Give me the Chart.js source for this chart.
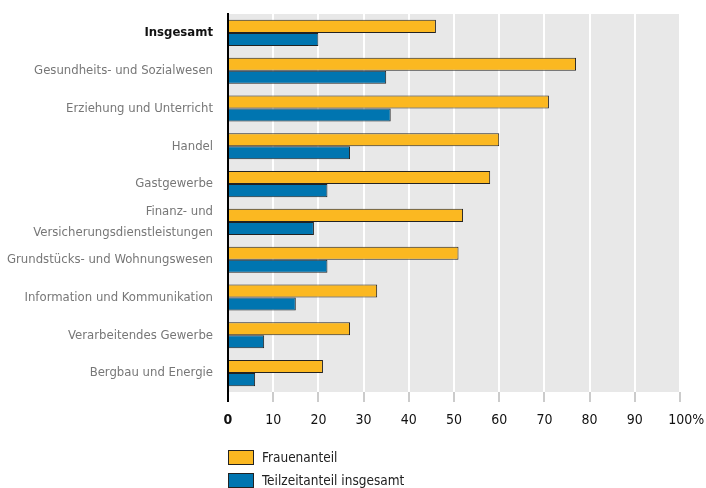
<!DOCTYPE html>
<html>
<head>
<meta charset="utf-8">
<script src="https://cdn.jsdelivr.net/npm/chart.js@4/dist/chart.umd.min.js"></script>
<style>
html,body{margin:0;padding:0;background:#fff;}
#wrap{width:706px;height:488px;position:relative;}
</style>
</head>
<body>
<div id="wrap"><canvas id="c" width="706" height="488"></canvas></div>
<script>
const categories = [
  "Insgesamt",
  "Gesundheits- und Sozialwesen",
  "Erziehung und Unterricht",
  "Handel",
  "Gastgewerbe",
  ["Finanz- und", "Versicherungsdienstleistungen"],
  "Grundstücks- und Wohnungswesen",
  "Information und Kommunikation",
  "Verarbeitendes Gewerbe",
  "Bergbau und Energie"
];
const frauenanteil = [46, 77, 71, 60, 58, 52, 51, 33, 27, 21];
const teilzeitanteil = [20, 35, 36, 27, 22, 19, 22, 15, 8, 6];
const seriesNames = ["Frauenanteil", "Teilzeitanteil insgesamt"];
const tickValues = [0, 10, 20, 30, 40, 50, 60, 70, 80, 90, 100];

const FONT = "'Liberation Sans Narrow', 'DejaVu Sans Condensed', 'Roboto', sans-serif";
const ORANGE = "#fbb821";
const BLUE = "#0075b0";

const bgPlugin = {
  id: 'bg',
  beforeDraw(chart) {
    const {ctx, chartArea: a} = chart;
    ctx.save();
    ctx.fillStyle = '#e8e8e8';
    ctx.fillRect(a.left, a.top, a.right - a.left, a.bottom - a.top);
    ctx.restore();
  }
};

const legendPlugin = {
  id: 'customLegend',
  afterDraw(chart) {
    const {ctx} = chart;
    const x = 228;
    const ys = [450, 473];
    ctx.save();
    chart.data.datasets.forEach((ds, i) => {
      ctx.fillStyle = ds.backgroundColor;
      ctx.fillRect(x, ys[i], 26, 15);
      ctx.strokeStyle = '#222';
      ctx.lineWidth = 1;
      ctx.strokeRect(x + 0.5, ys[i] + 0.5, 25, 14);
      ctx.fillStyle = '#222';
      ctx.font = "13.5px " + FONT;
      ctx.textBaseline = 'middle';
      ctx.textAlign = 'left';
      ctx.fillText(ds.label, x + 34, ys[i] + 8);
    });
    ctx.restore();
  }
};

new Chart(document.getElementById('c'), {
  type: 'bar',
  data: {
    labels: categories,
    datasets: [
      {label: seriesNames[0], data: frauenanteil, backgroundColor: ORANGE, borderColor: '#222', borderWidth: 1},
      {label: seriesNames[1], data: teilzeitanteil, backgroundColor: BLUE, borderColor: '#222', borderWidth: 1}
    ]
  },
  options: {
    indexAxis: 'y',
    responsive: false,
    animation: false,
    devicePixelRatio: 1,
    categoryPercentage: 0.69,
    barPercentage: 1,
    layout: {padding: {top: 14, right: 26, bottom: 56, left: 0}},
    plugins: {legend: {display: false}, tooltip: {enabled: false}},
    scales: {
      x: {
        min: 0, max: 100,
        afterBuildTicks(scale) { scale.ticks = tickValues.map(v => ({value: v})); },
        afterFit(scale) { scale.height = 40; scale.paddingLeft = 0; scale.paddingRight = 0; },
        border: {display: false},
        grid: {
          color: '#ffffff', lineWidth: 2, tickLength: 10,
          tickColor: ctx => (ctx.tick && ctx.tick.value === 0) ? '#000' : '#999',
          tickWidth: ctx => (ctx.tick && ctx.tick.value === 0) ? 2 : 1
        },
        ticks: {
          autoSkip: false,
          padding: 10,
          color: '#111',
          font: ctx => ({family: FONT, size: 14, weight: (ctx.tick && ctx.tick.value === 0) ? 'bold' : 'normal'}),
          callback: v => v === 100 ? '\u2002\u2002100%' : String(v),
          maxRotation: 0
        }
      },
      y: {
        afterFit(scale) { scale.width = 228; scale.paddingTop = 0; scale.paddingBottom = 0; },
        border: {display: true, color: '#000', width: 2},
        grid: {display: false, drawTicks: false},
        ticks: {
          autoSkip: false,
          padding: 15,
          color: ctx => ctx.index === 0 ? '#111' : '#777',
          font: ctx => ({family: FONT, size: 13, weight: ctx.index === 0 ? 'bold' : 'normal', lineHeight: 1.6})
        }
      }
    }
  },
  plugins: [bgPlugin, legendPlugin]
});
</script>
</body>
</html>
